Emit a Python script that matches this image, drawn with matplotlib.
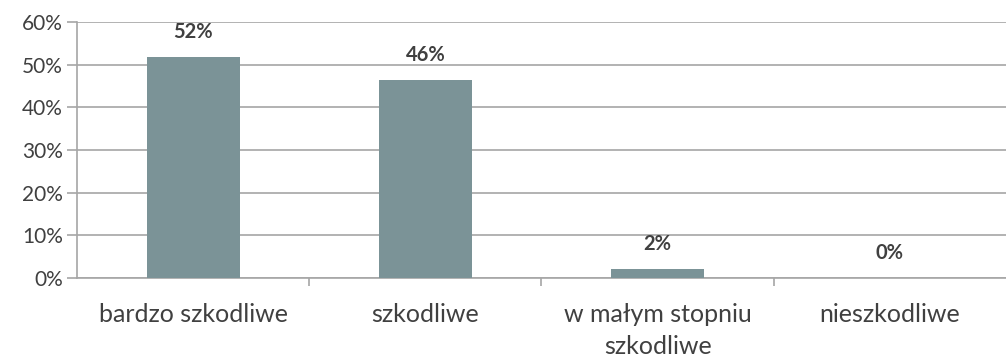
import matplotlib.pyplot as plt
import numpy as np

plt.rcParams['font.family'] = ['Lato', 'DejaVu Sans']

categories = ['bardzo szkodliwe', 'szkodliwe', 'w małym stopniu\nszkodliwe', 'nieszkodliwe']
values = [51.7, 46.4, 2.1, 0.0]
value_labels = ['52%', '46%', '2%', '0%']
yticks = [0, 10, 20, 30, 40, 50, 60]

bar_color = '#7b9397'
grid_color = '#a6a6a6'
text_color = '#404040'

fig = plt.figure(figsize=(10.06, 3.56), dpi=100)
ax = fig.add_axes([0.0765, 0.219, 0.9235, 0.719])

x = np.arange(len(categories))
bars = ax.bar(x, values, width=0.4, color=bar_color, zorder=3)

for xi, v, lab in zip(x, values, value_labels):
    ax.annotate(lab, (xi, v), xytext=(0, 11), textcoords='offset points',
                ha='center', va='bottom', fontsize=14.5, fontweight='bold',
                color=text_color, zorder=4)

ax.set_xlim(-0.5, len(categories) - 0.5)
ax.set_ylim(0, 60)
ax.set_yticks(yticks)
ax.set_yticklabels([f'{t}%' for t in yticks], fontsize=15, color=text_color)
ax.yaxis.grid(True, color=grid_color, linewidth=1.2, zorder=0)

# category labels centred under bars, ticks on the boundaries
ax.set_xticks(x)
ax.set_xticklabels(categories, fontsize=18, color=text_color, linespacing=1.45)
ax.tick_params(axis='x', length=0, pad=18)
ax.set_xticks(np.arange(0.5, len(categories) - 0.5, 1), minor=True)
ax.tick_params(axis='x', which='minor', length=6, width=1.2, color=grid_color)
ax.tick_params(axis='y', length=7, width=1.2, color=grid_color, pad=3)

for side in ['top', 'right']:
    ax.spines[side].set_visible(False)
for side in ['left', 'bottom']:
    ax.spines[side].set_color(grid_color)
    ax.spines[side].set_linewidth(1.2)

fig.savefig('out.png', dpi=100)
